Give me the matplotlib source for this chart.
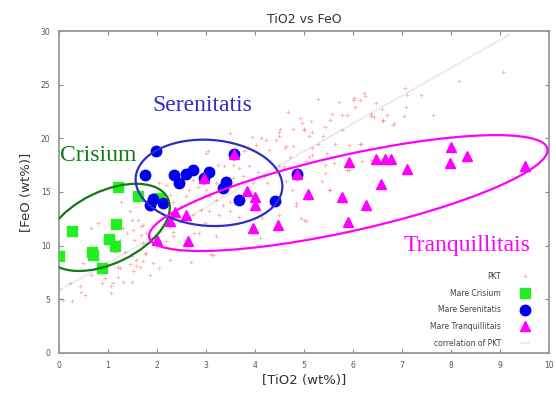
import matplotlib
matplotlib.use("Agg")
import matplotlib.pyplot as plt
from matplotlib.patches import Ellipse
from matplotlib.transforms import Affine2D, ScaledTranslation

# PKT samples (TiO2 wt%, FeO wt%)
pkt_tio2 = [0.0, 0.09, 0.26, 0.22, 0.43, 0.46, 0.53, 0.66, 0.87, 0.93, 1.1, 1.2, 1.31, 1.48,
            1.07, 1.07, 1.24, 1.44, 1.58, 1.71, 1.51, 1.75, 1.99, 2.26, 0.97, 0.49, 0.94,
            1.27, 1.44, 1.48, 1.61, 1.68, 1.51, 1.38, 1.31, 1.68, 1.54, 1.71, 1.85, 1.24, 0.8,
            0.66, 1.14, 1.34, 1.48, 1.58, 1.78, 1.65, 1.92, 1.21, 2.19, 2.12, 2.32, 2.05, 1.85,
            2.7, 3.14, 1.71, 1.78, 2.26, 2.32, 3.2, 2.86, 2.46, 2.97, 3.24, 4.15, 4.49, 4.83,
            4.76, 4.63, 4.49, 2.8, 2.05, 2.19, 2.53, 2.73, 2.26, 2.32, 2.49, 2.73, 3.68, 3.48,
            3.27, 3.07, 2.9, 3.61, 3.48, 3.34, 3.2, 3.07, 2.9, 2.76, 2.6, 2.66, 2.83, 3.0, 3.2,
            3.54, 3.75, 3.95, 4.25, 4.19, 4.05, 3.88, 3.68, 3.54, 3.37, 3.24, 3.03, 3.48, 3.78,
            4.29, 4.02, 4.12, 4.42, 4.63, 4.49, 3.1, 4.93, 5.03, 4.09, 4.83, 2.76, 5.0, 3.94,
            4.22, 3.0, 4.68, 4.92, 4.51, 4.78, 4.99, 5.16, 5.43, 5.53, 5.56, 5.77, 5.87, 6.0,
            6.14, 6.24, 6.04, 6.37, 6.61, 6.82, 7.05, 7.1, 7.08, 7.39, 7.63, 4.48, 4.61, 4.95,
            5.09, 5.39, 4.78, 5.16, 5.29, 5.63, 6.14, 4.72, 5.09, 4.58, 5.43, 5.6, 5.43, 5.36,
            5.53, 5.87, 6.17, 6.46, 6.58, 6.36, 6.42, 6.69, 6.6, 6.83, 7.03, 8.15, 9.05, 5.0,
            5.78, 5.47, 5.91, 6.15, 5.17, 5.03, 6.36, 5.91, 5.51, 5.71, 6.02, 6.22, 5.14, 5.28]
pkt_feo = [6.0, 4.95, 4.8, 6.5, 6.2, 5.7, 5.4, 7.3, 6.5, 6.95, 6.5, 7.1, 6.65, 6.65,
           5.55, 6.2, 7.9, 8.3, 8.1, 8.6, 7.6, 9.2, 9.9, 8.7, 8.0, 8.35, 10.5,
           14.1, 13.2, 12.4, 12.4, 11.8, 11.5, 11.15, 11.6, 11.0, 10.5, 10.2, 10.85, 10.5, 12.1,
           11.6, 9.45, 9.45, 9.0, 8.7, 9.3, 8.05, 8.35, 8.05, 10.4, 11.8, 11.3, 7.9, 7.3,
           8.5, 9.1, 11.9, 11.15, 11.8, 10.9, 10.9, 11.2, 12.25, 12.1, 11.8, 12.55, 12.9, 13.65,
           15.2, 16.0, 17.4, 17.4, 15.8, 15.65, 16.0, 16.1, 14.75, 14.1, 13.65, 12.9, 12.7, 13.2,
           12.9, 13.2, 13.3, 14.4, 14.1, 13.8, 14.25, 14.6, 14.4, 14.1, 14.6, 15.2, 15.5, 15.2, 15.8,
           16.3, 16.45, 15.8, 15.8, 16.45, 16.9, 17.4, 17.2, 17.5, 17.4, 17.5, 18.8, 20.5, 18.8,
           18.9, 19.4, 20.0, 19.85, 19.25, 20.6, 9.2, 12.55, 12.25, 10.7, 13.95, 11.15, 12.4, 20.1,
           19.85, 18.6, 22.5, 21.9, 20.9, 20.9, 20.9, 20.6, 21.1, 21.7, 22.3, 22.2, 22.2, 23.6,
           23.6, 23.9, 22.95, 22.05, 21.7, 21.25, 24.7, 24.0, 22.9, 24.0, 22.2, 20.2, 19.1, 21.4,
           20.2, 20.2, 19.25, 19.1, 19.5, 19.5, 19.5, 18.3, 18.3, 17.4, 17.5, 17.7, 16.75, 16.0,
           15.2, 17.05, 17.85, 23.3, 22.7, 22.3, 22.0, 22.2, 21.6, 21.4, 22.1, 25.3, 26.2, 20.8,
           20.8, 18.6, 19.4, 19.5, 18.45, 17.85, 18.0, 17.05, 15.2, 23.4, 23.75, 24.2, 21.6, 23.7]

crisium_tio2 = [0.0, 0.27, 0.68, 0.70, 0.87, 1.02, 1.14, 1.16, 1.2, 1.62, 2.05]
crisium_feo = [9.0, 11.4, 9.4, 9.1, 7.9, 10.6, 10.0, 12.0, 15.5, 14.6, 14.4]

serenitatis_tio2 = [1.97, 3.56, 1.76, 2.34, 2.44, 2.60, 2.73, 3.07, 2.95, 3.41, 3.35, 3.67,
                    4.41, 4.85, 1.92, 1.85, 2.13]
serenitatis_feo = [18.85, 18.5, 16.6, 16.6, 15.8, 16.7, 17.05, 16.9, 16.3, 15.9, 15.4, 14.25,
                   14.2, 16.65, 14.3, 13.8, 13.95]

tranq_tio2 = [8.0, 8.33, 7.98, 9.5, 5.91, 6.47, 6.65, 6.78, 7.09, 6.56, 5.07, 5.78, 6.27, 5.9,
              3.83, 4.0, 4.0, 2.6, 2.36, 3.95, 4.46, 2.64, 2.0, 2.27, 3.56, 2.95, 4.85]
tranq_feo = [19.2, 18.35, 17.7, 17.4, 17.8, 18.05, 18.05, 18.05, 17.1, 15.7, 14.8, 14.5, 13.8,
             12.2, 15.1, 14.5, 13.8, 12.9, 13.1, 11.6, 11.9, 10.4, 10.5, 12.25, 18.5, 16.3, 16.65]

corr_tio2 = [0.0, 9.2]
corr_feo = [5.8, 29.7]

# region outlines: centre (data), width/height in pixels, angle
regions = [
    ("Crisium", (0.99, 11.7), 134, 72, 25.8, "#137a13", (0.02, 18.4)),
    ("Serenitatis", (3.06, 15.85), 147, 86, -4.0, "#2e2ec4", (1.9, 23.1)),
    ("Tranquillitais", (5.9, 14.9), 408, 76, 12.6, "#ff00ff", (7.03, 10.0)),
]

fig = plt.figure(figsize=(5.56, 3.93), dpi=100)
ax = fig.add_axes([0.106, 0.102, 0.882, 0.819])
ax.set_xlim(0, 10)
ax.set_ylim(0, 30)

ax.plot(corr_tio2, corr_feo, color="#ececec", lw=1.5, zorder=1, label="correlation of PKT")
ax.plot(pkt_tio2, pkt_feo, ls="none", marker="+", ms=3.5, mew=0.7, color="#ff5a5a", alpha=0.45,
        zorder=2, label="PKT")
ax.plot(crisium_tio2, crisium_feo, ls="none", marker="s", ms=7.5, color="#22ee22", zorder=3,
        label="Mare Crisium")
ax.plot(serenitatis_tio2, serenitatis_feo, ls="none", marker="o", ms=7.5, color="#0000ee", zorder=3,
        label="Mare Serenitatis")
ax.plot(tranq_tio2, tranq_feo, ls="none", marker="^", ms=6.5, color="#ff00ff", zorder=4,
        label="Mare Tranquillitais")

for name, centre, w, h, ang, col, txt_pos in regions:
    tr = Affine2D() + ScaledTranslation(centre[0], centre[1], ax.transData)
    ax.add_patch(Ellipse((0, 0), w, h, angle=ang, fill=False, edgecolor=col, lw=1.6,
                         transform=tr, zorder=5))
    ax.text(txt_pos[0], txt_pos[1], name, color=col, fontsize=17,
            family="Liberation Serif", ha="left", va="center", zorder=6)

handles, labels = ax.get_legend_handles_labels()
order = [1, 2, 3, 4, 0]
ax.legend([handles[i] for i in order], [labels[i] for i in order], loc="lower right",
          bbox_to_anchor=(0.972, -0.005), markerfirst=False, frameon=False, fontsize=5.5,
          labelspacing=1.0, handlelength=1.0, handletextpad=2.6, labelcolor="#444444")

ax.set_xticks(range(0, 11))
ax.set_yticks(range(0, 31, 5))
ax.tick_params(direction="in", top=True, right=True, labelsize=5.5, labelcolor="#555555",
               color="#888888", length=3, pad=6)
for sp in ax.spines.values():
    sp.set_color("#999999")
    sp.set_linewidth(1.3)

ax.set_title("TiO2 vs FeO", fontsize=9, color="#333333", pad=6)
ax.set_xlabel("[TiO2 (wt%)]", fontsize=9.5, color="#333333", labelpad=3)
ax.set_ylabel("[FeO (wt%)]", fontsize=9.5, color="#333333", labelpad=6)

fig.savefig("out.png", dpi=100)
